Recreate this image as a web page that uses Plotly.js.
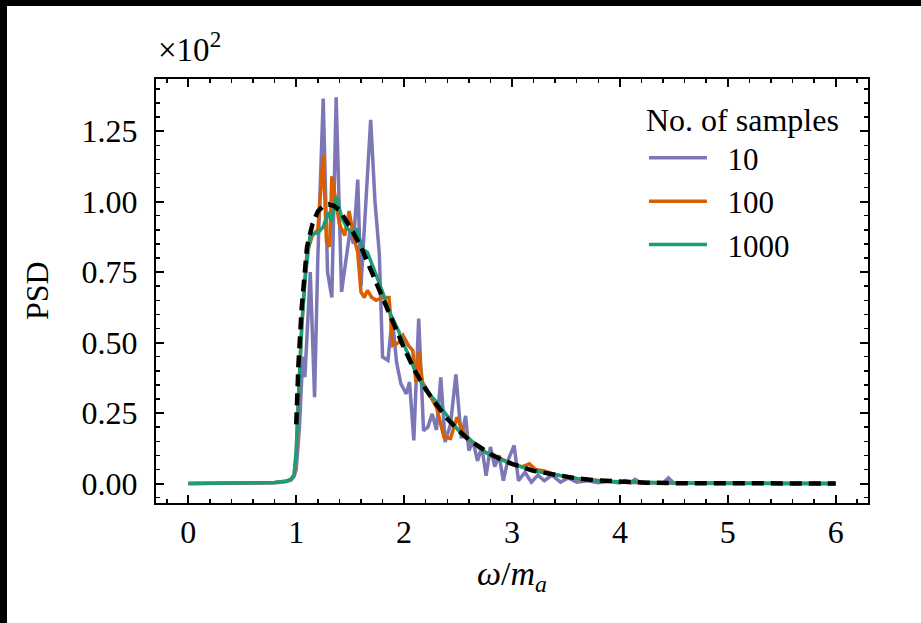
<!DOCTYPE html>
<html>
<head>
<meta charset="utf-8">
<script src="https://cdn.plot.ly/plotly-3.0.1.min.js"></script>
<style>
html,body{margin:0;padding:0;background:#000;}
#plot{position:absolute;left:7px;top:6px;width:914px;height:617px;background:#fff;}
</style>
</head>
<body>
<div id="plot"></div>
<script>
// omega / m_a and PSD (in units of 10^2)
const x10 = [0,0.5,0.8,0.9,0.95,0.98,1.0,1.03,1.06,1.08,1.1,1.13,1.17,1.2,1.25,1.29,1.33,1.37,1.42,1.46,1.5,1.53,1.57,1.6,1.64,1.69,1.73,1.77,1.8,1.85,1.89,1.93,1.97,2.02,2.05,2.09,2.135,2.18,2.22,2.26,2.3,2.34,2.38,2.43,2.48,2.53,2.57,2.6,2.64,2.68,2.72,2.76,2.8,2.84,2.88,2.92,2.96,3.02,3.06,3.12,3.18,3.24,3.3,3.37,3.45,3.52,3.6,3.7,3.8,3.9,4.0,4.05,4.1,4.14,4.2,4.3,4.4,4.45,4.5,4.6,5.0,5.5,6.0];
const y10 = [0,0.001,0.003,0.006,0.012,0.025,0.05,0.2,0.45,0.377,0.55,0.75,0.306,0.8,1.366,0.75,0.66,1.37,0.68,0.8,0.9,0.85,1.078,0.7,0.95,1.29,1.0,0.816,0.449,0.437,0.59,0.43,0.354,0.318,0.36,0.153,0.585,0.188,0.2,0.247,0.19,0.377,0.147,0.21,0.387,0.16,0.24,0.117,0.15,0.08,0.13,0.028,0.13,0.06,0.1,0.01,0.08,0.135,0.01,0.04,0.005,0.03,0.01,0.03,0.005,0.02,0.005,0.01,0.003,0.008,0.002,0.01,0.003,0.015,0.002,0.004,0.002,0.02,0.002,0.001,0,0,0];

const x100 = [0,0.5,0.8,0.9,0.95,0.98,1.0,1.02,1.05,1.08,1.1,1.15,1.2,1.25,1.28,1.31,1.33,1.36,1.4,1.45,1.49,1.53,1.57,1.6,1.63,1.66,1.7,1.74,1.8,1.86,1.895,1.95,1.99,2.04,2.08,2.11,2.135,2.17,2.26,2.3,2.37,2.43,2.49,2.54,2.6,2.66,2.72,2.78,2.86,2.95,3.03,3.1,3.16,3.22,3.3,3.37,3.45,3.55,3.65,3.8,4.0,4.25,4.5,5.0,5.5,6.0];
const y100 = [0,0.001,0.004,0.008,0.015,0.03,0.1,0.3,0.55,0.72,0.82,0.88,0.9,1.165,0.86,0.84,1.09,1.02,0.92,0.88,0.967,0.88,0.82,0.68,0.66,0.685,0.66,0.65,0.66,0.66,0.49,0.5,0.525,0.49,0.472,0.36,0.47,0.36,0.295,0.27,0.164,0.16,0.235,0.19,0.155,0.14,0.12,0.105,0.095,0.08,0.064,0.06,0.07,0.05,0.045,0.035,0.028,0.02,0.015,0.01,0.005,0.003,0.002,0.001,0.0005,0.0002];

const x1000 = [0,0.5,0.8,0.9,0.95,0.98,1.0,1.02,1.05,1.08,1.1,1.126,1.15,1.2,1.25,1.296,1.326,1.372,1.42,1.465,1.51,1.56,1.62,1.66,1.71,1.75,1.8,1.85,1.9,1.95,2.0,2.05,2.1,2.2,2.3,2.4,2.5,2.6,2.7,2.8,2.9,3.0,3.2,3.4,3.6,3.8,4.0,4.5,5.0,5.5,6.0];
const y1000 = [0,0.001,0.004,0.008,0.015,0.03,0.12,0.3,0.55,0.72,0.8,0.875,0.885,0.89,0.91,0.963,0.93,1.017,0.946,0.91,0.89,0.9,0.83,0.82,0.77,0.73,0.68,0.62,0.58,0.54,0.49,0.45,0.40,0.33,0.29,0.24,0.19,0.16,0.125,0.10,0.085,0.07,0.045,0.03,0.018,0.01,0.006,0.002,0.001,0.0005,0.0002];

const xTh = [1.0,1.02,1.05,1.08,1.1,1.15,1.2,1.25,1.3,1.35,1.4,1.5,1.6,1.7,1.8,1.9,2.0,2.1,2.2,2.3,2.4,2.5,2.6,2.7,2.8,2.9,3.0,3.2,3.4,3.6,3.8,4.0,4.25,4.5,5.0,5.5,6.0];
const yTh = [0.21,0.42,0.62,0.76,0.84,0.92,0.965,0.985,0.99,0.985,0.97,0.91,0.84,0.75,0.66,0.56,0.48,0.40,0.335,0.28,0.23,0.19,0.155,0.13,0.105,0.085,0.07,0.045,0.03,0.018,0.011,0.006,0.003,0.0015,0.0005,0.0002,0.0001];

const seriesNames = ['10','100','1000'];
const colors = ['#7570b3','#d95f02','#1b9e77'];

const FONT = '"Liberation Serif", "DejaVu Serif", serif';
const GAP = '\u00a0\u00a0';

const traces = [
  {x:x10, y:y10, name:GAP + seriesNames[0], mode:'lines', line:{color:colors[0], width:3.5}, opacity:0.95},
  {x:x100, y:y100, name:GAP + seriesNames[1], mode:'lines', line:{color:colors[1], width:3.5}},
  {x:x1000, y:y1000, name:GAP + seriesNames[2], mode:'lines', line:{color:colors[2], width:3.5}},
  {x:xTh, y:yTh, name:'theory', mode:'lines', showlegend:false, line:{color:'#000', width:4.5, dash:'12px,7px'}}
];

const axisCommon = {
  showline:true, linecolor:'#000', linewidth:2, mirror:'allticks',
  ticks:'inside', ticklen:8, tickwidth:2, tickcolor:'#000',
  showgrid:false, zeroline:false,
  tickfont:{family:FONT, size:32, color:'#000'}
};

const layout = {
  width:914, height:617,
  margin:{l:149, r:53, t:73, b:120},
  paper_bgcolor:'#fff', plot_bgcolor:'#fff',
  font:{family:FONT, color:'#000'},
  xaxis:Object.assign({}, axisCommon, {
    range:[-0.3,6.3], tickmode:'linear', tick0:0, dtick:1,
    ticklabelstandoff:0,
    minor:{ticks:'inside', ticklen:4, tickwidth:1.5, tickcolor:'#000', dtick:0.2, tick0:0, showgrid:false}
  }),
  yaxis:Object.assign({}, axisCommon, {
    range:[-0.069,1.435], tickmode:'linear', tick0:0, dtick:0.25, tickformat:'.2f',
    ticklabelstandoff:10,
    minor:{ticks:'inside', ticklen:4, tickwidth:1.5, tickcolor:'#000', dtick:0.05, tick0:0, showgrid:false}
  }),
  showlegend:true,
  legend:{
    x:0.962, xanchor:'right', y:0.975, yanchor:'top',
    bgcolor:'rgba(0,0,0,0)', borderwidth:0,
    itemwidth:58,
    font:{family:FONT, size:31, color:'#000'},
    title:{text:'No. of samples', side:'top center', font:{family:FONT, size:32, color:'#000'}},
    tracegroupgap:0
  },
  annotations:[
    {xref:'paper', yref:'paper', x:0, y:1, xanchor:'left', yanchor:'bottom', yshift:9, showarrow:false,
     text:'×10<sup>2</sup>', font:{family:FONT, size:33, color:'#000'}},
    {xref:'paper', yref:'paper', x:-0.167, y:0.5, xanchor:'center', yanchor:'middle', showarrow:false,
     textangle:-90, text:'PSD', font:{family:FONT, size:32, color:'#000'}},
    {xref:'paper', yref:'paper', x:0.5, y:-0.172, xanchor:'center', yanchor:'middle', showarrow:false,
     text:'<i>ω</i>/<i>m</i><sub><i>a</i></sub>', font:{family:FONT, size:34, color:'#000'}}
  ]
};

Plotly.newPlot('plot', traces, layout, {displayModeBar:false, staticPlot:true});
</script>
</body>
</html>
